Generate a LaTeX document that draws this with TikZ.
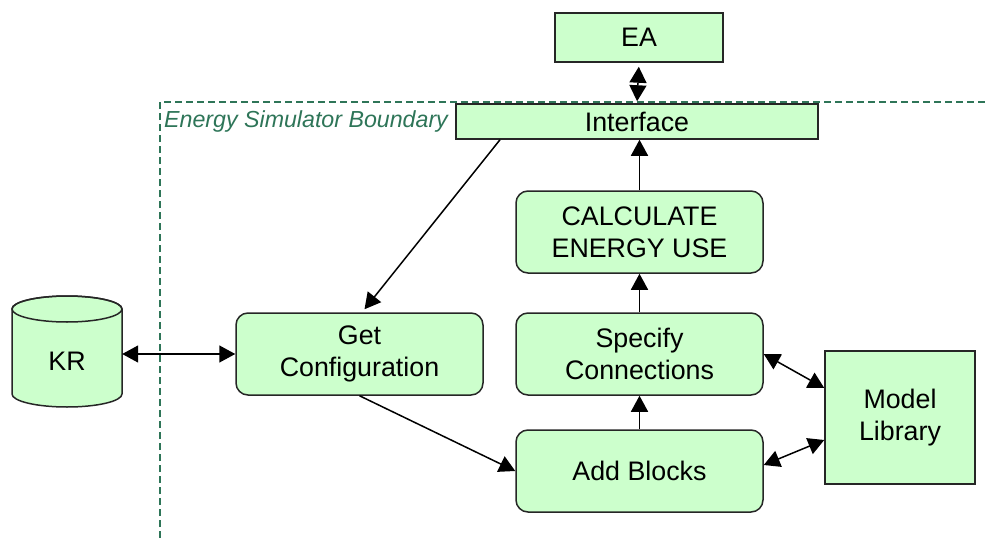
\documentclass[tikz,border=0pt]{standalone}
\usepackage{fontspec}
\setmainfont{Liberation Sans}
\usetikzlibrary{arrows.meta}
\definecolor{boxfill}{HTML}{CCFFCC}
\definecolor{bound}{HTML}{2E7558}

\begin{document}
\begin{tikzpicture}[x=1pt,y=-1pt,
  box/.style={draw=black!85, line width=1.5pt, fill=boxfill, inner sep=0pt,
    align=center, font=\fontsize{26.8}{32}\selectfont},
  rbox/.style={box, rounded corners=12pt, minimum width=247pt, minimum height=82pt},
  tip/.tip={Triangle[length=16pt,width=17pt]},
  link/.style={line width=1.5pt, -tip},
  both/.style={line width=1.5pt, tip-tip},
]
\useasboundingbox (0,0) rectangle (986,538);

% simulator boundary
\draw[bound, line width=1.5pt, dash pattern=on 7pt off 4pt] (160,538) -- (160,102) -- (986,102);
\node[anchor=west, text=bound, inner sep=0pt, font=\itshape\fontsize{23.2}{27}\selectfont]
  (blabel) at (164,122) {Energy Simulator Boundary};

% blocks
\node[box, minimum width=168pt, minimum height=49pt] (ea) at (639,37.5) {EA};
\node[box, minimum width=362pt, minimum height=35pt] (iface) at (637,121.5) {Interface};
\node[rbox] (calc) at (639.5,232) {CALCULATE\\ENERGY USE};
\node[rbox] (spec) at (639.5,354) {Specify\\Connections};
\node[rbox] (add) at (639.5,471) {Add Blocks};
\node[rbox] (get) at (359.5,354) {Get\\Configuration};
\node[box, minimum width=150pt, minimum height=133pt] (model) at (900,417.5) {Model\\Library};

% knowledge repository cylinder
\path[fill=boxfill, draw=black!85, line width=1.5pt]
  (12,309) -- (12,394) arc[start angle=180, end angle=360, x radius=55pt, y radius=13pt]
  -- (122,309) arc[start angle=0, end angle=180, x radius=55pt, y radius=13pt] -- cycle;
\draw[black!85, line width=1.5pt] (67,309) ellipse[x radius=55pt, y radius=13pt];
\node[inner sep=0pt, minimum width=110pt, minimum height=100pt,
  font=\fontsize{26.8}{32}\selectfont] (kr) at (67,361) {KR};

% connectors
\draw[both, shorten <=4pt, shorten >=2pt] (ea.south) -- (iface.north);
\draw[link] (calc.north) -- (calc.north |- iface.south);
\draw[link] (spec.north) -- (spec.north |- calc.south);
\draw[link] (add.north) -- (add.north |- spec.south);
\draw[link] ([xshift=-137pt]iface.south) -- ([xshift=5pt,yshift=3pt]get.north);
\draw[link] (get.south) -- (add.west);
\draw[both] (get.west -| kr.east) -- (get.west);
\draw[both] (spec.east) -- ([yshift=29.5pt]model.west);
\draw[both] ([yshift=6pt]add.east) -- ([yshift=-22.5pt]model.west);
\end{tikzpicture}
\end{document}
